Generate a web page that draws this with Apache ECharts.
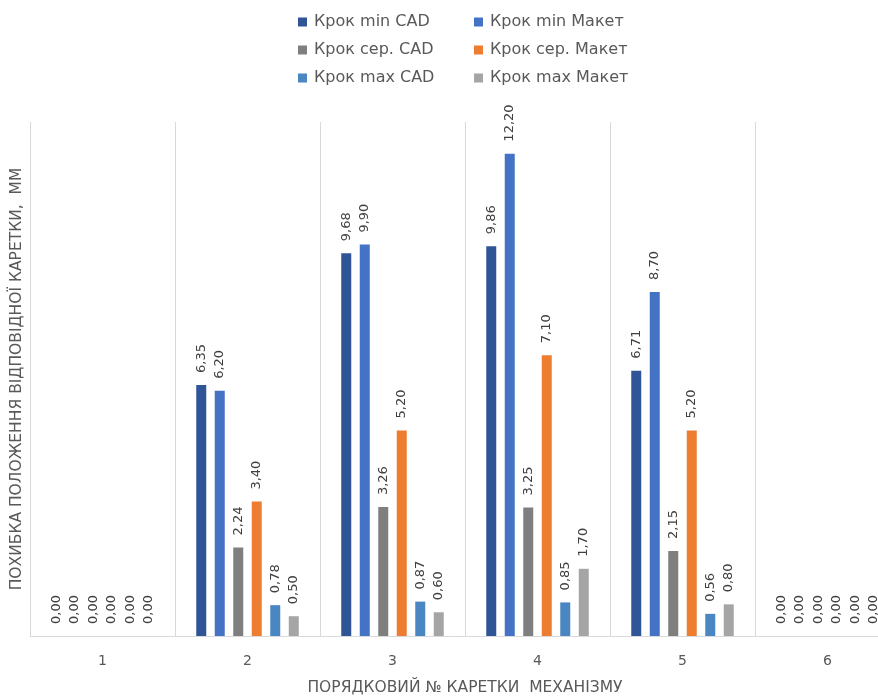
<!DOCTYPE html>
<html>
<head>
<meta charset="utf-8">
<script src="https://cdn.jsdelivr.net/npm/echarts@6/dist/echarts.min.js"></script>
<style>
  html, body { margin: 0; padding: 0; background: #ffffff; }
  #chart { width: 878px; height: 698px; }
</style>
</head>
<body>
<div id="chart"></div>
<script>
// Carriage numbers along the x axis
const categories = ['1', '2', '3', '4', '5', '6'];

// Series names
const seriesNames = [
  'Крок min CAD', 'Крок min Макет',
  'Крок сер. CAD', 'Крок сер. Макет',
  'Крок max CAD', 'Крок max Макет'
];

// Position error per carriage, mm
const minCad   = [0, 6.35, 9.68, 9.86, 6.71, 0];
const minMaket = [0, 6.20, 9.90, 12.20, 8.70, 0];
const avgCad   = [0, 2.24, 3.26, 3.25, 2.15, 0];
const avgMaket = [0, 3.40, 5.20, 7.10, 5.20, 0];
const maxCad   = [0, 0.78, 0.87, 0.85, 0.56, 0];
const maxMaket = [0, 0.50, 0.60, 1.70, 0.80, 0];

const seriesValues = [minCad, minMaket, avgCad, avgMaket, maxCad, maxMaket];
const seriesColors = ['#2F5597', '#4472C4', '#7F7F7F', '#ED7D31', '#4A86C2', '#A5A5A5'];

const FONT = '"DejaVu Sans", "Open Sans", sans-serif';

const chart = echarts.init(document.getElementById('chart'), null, { renderer: 'canvas' });

const series = seriesValues.map((vals, i) => ({
  name: seriesNames[i],
  type: 'bar',
  data: vals,
  barWidth: 10,
  barGap: '85%',
  barCategoryGap: '29%',
  itemStyle: { color: seriesColors[i] },
  label: {
    show: true,
    position: 'top',
    rotate: 90,
    align: 'left',
    verticalAlign: 'middle',
    distance: 12,
    color: '#404040',
    fontFamily: FONT,
    fontSize: 13,
    formatter: p => p.value.toFixed(2).replace('.', ',')
  }
}));

const legendBase = {
  orient: 'vertical',
  top: 8,
  itemWidth: 9,
  itemHeight: 9,
  itemGap: 10,
  icon: 'rect',
  textStyle: { color: '#595959', fontFamily: FONT, fontSize: 16, lineHeight: 18, padding: [0, 0, 0, 2] }
};

chart.setOption({
  backgroundColor: '#ffffff',
  animation: false,
  legend: [
    Object.assign({}, legendBase, { left: 293, data: [seriesNames[0], seriesNames[2], seriesNames[4]] }),
    Object.assign({}, legendBase, { left: 469, data: [seriesNames[1], seriesNames[3], seriesNames[5]] })
  ],
  grid: { left: 30, right: -22, top: 122, bottom: 62, containLabel: false, outerBoundsMode: 'none' },
  xAxis: {
    type: 'category',
    data: categories,
    name: 'ПОРЯДКОВИЙ № КАРЕТКИ  МЕХАНІЗМУ',
    nameLocation: 'middle',
    nameGap: 44,
    nameTextStyle: { color: '#595959', fontFamily: FONT, fontSize: 15.5 },
    axisLine: { show: true, lineStyle: { color: '#d9d9d9', width: 1 } },
    axisTick: { show: false },
    axisLabel: { color: '#595959', fontFamily: FONT, fontSize: 14, margin: 18 },
    splitLine: { show: true, lineStyle: { color: '#d9d9d9', width: 1 } }
  },
  yAxis: {
    type: 'value',
    min: 0,
    max: 13,
    name: 'ПОХИБКА ПОЛОЖЕННЯ ВІДПОВІДНОЇ КАРЕТКИ,  ММ',
    nameLocation: 'middle',
    nameGap: 5,
    nameRotate: 90,
    nameTextStyle: { color: '#595959', fontFamily: FONT, fontSize: 15.5 },
    axisLine: { show: false },
    axisTick: { show: false },
    axisLabel: { show: false },
    splitLine: { show: false }
  },
  series: series
});
</script>
</body>
</html>
